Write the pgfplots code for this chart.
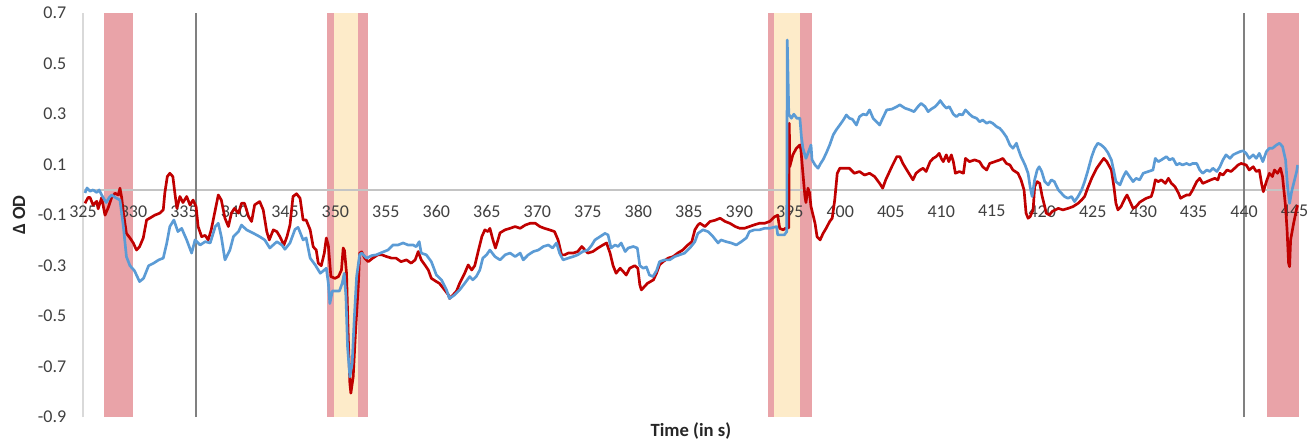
\documentclass[border=0pt]{standalone}
\usepackage{fontspec}
\setmainfont{Carlito}
\usepackage{pgfplots}
\pgfplotsset{compat=1.18}

\definecolor{seriesred}{HTML}{C00000}
\definecolor{seriesblue}{HTML}{5B9BD5}
\definecolor{bandred}{HTML}{E9A3A8}
\definecolor{bandyellow}{HTML}{FDEBC9}
\definecolor{markline}{HTML}{808080}
\definecolor{zeroline}{HTML}{C4C4C4}
\definecolor{ticktext}{HTML}{404040}

\begin{document}
\begin{tikzpicture}
\begin{axis}[
  name=ax,
  set layers,
  scale only axis,
  width=911.8pt, height=303pt,
  xmin=325, xmax=445.4, ymin=-0.9, ymax=0.7,
  axis x line=middle, axis y line=left,
  x axis line style={draw=none},
  y axis line style={-, draw=black!15, line width=0.9pt},
  hide obscured x ticks=false,
  major tick length=0pt,
  xtick={325,330,...,445},
  ytick={-0.9,-0.7,-0.5,-0.3,-0.1,0.1,0.3,0.5,0.7},
  yticklabels={-0.9,-0.7,-0.5,-0.3,-0.1,0.1,0.3,0.5,0.7},
  /pgf/number format/assume math mode=true,
  /pgf/number format/1000 sep={},
  tick label style={font=\fontsize{13.5}{16}\selectfont, text=ticktext},
  xticklabel style={yshift=-8pt},
  yticklabel style={xshift=-9pt},
  clip=true,
]

% stimulus bands, kept behind the tick labels
\begin{pgfonlayer}{axis background}
\addplot[draw=none, fill=bandred] coordinates {(327.1,-0.9) (330.0,-0.9) (330.0,0.7) (327.1,0.7)} -- cycle;
\addplot[draw=none, fill=bandred] coordinates {(349.2,-0.9) (349.9,-0.9) (349.9,0.7) (349.2,0.7)} -- cycle;
\addplot[draw=none, fill=bandyellow] coordinates {(349.9,-0.9) (352.2,-0.9) (352.2,0.7) (349.9,0.7)} -- cycle;
\addplot[draw=none, fill=bandred] coordinates {(352.2,-0.9) (353.25,-0.9) (353.25,0.7) (352.2,0.7)} -- cycle;
\addplot[draw=none, fill=bandred] coordinates {(392.8,-0.9) (393.4,-0.9) (393.4,0.7) (392.8,0.7)} -- cycle;
\addplot[draw=none, fill=bandyellow] coordinates {(393.4,-0.9) (396.05,-0.9) (396.05,0.7) (393.4,0.7)} -- cycle;
\addplot[draw=none, fill=bandred] coordinates {(396.05,-0.9) (397.2,-0.9) (397.2,0.7) (396.05,0.7)} -- cycle;
\addplot[draw=none, fill=bandred] coordinates {(442.25,-0.9) (445.4,-0.9) (445.4,0.7) (442.25,0.7)} -- cycle;

% zero line and event markers
\addplot[zeroline, line width=0.9pt] coordinates {(325,0) (445.4,0)};
\addplot[markline, line width=1.3pt] coordinates {(336.2,-0.9) (336.2,0.7)};
\addplot[markline, line width=1.3pt] coordinates {(440.0,-0.9) (440.0,0.7)};
\end{pgfonlayer}

% red trace
\addplot[seriesred, line width=2pt, line join=round] coordinates {
(325.2,-0.053) (325.5,-0.03) (325.7,-0.03) (326.0,-0.06) (326.36,-0.045) (326.5,-0.075)
(326.85,-0.03) (327.18,-0.10) (327.5,-0.07) (327.84,-0.03) (328.17,-0.013) (328.5,-0.02)
(328.66,0.007) (328.83,-0.03) (329.0,-0.09) (329.3,-0.172) (329.65,-0.19) (329.98,-0.21)
(330.3,-0.238) (330.6,-0.225) (330.97,-0.19) (331.3,-0.119) (331.6,-0.112) (332.1,-0.10)
(332.6,-0.092) (332.95,-0.079) (333.1,-0.013) (333.35,0.053) (333.6,0.066) (333.9,0.053)
(334.1,-0.013) (334.3,-0.073) (334.6,-0.026) (334.9,-0.05) (335.27,-0.026) (335.6,-0.06)
(335.9,-0.04) (336.2,-0.066) (336.4,-0.145) (336.75,-0.185) (337.1,-0.18) (337.4,-0.198)
(337.7,-0.158) (338.1,-0.079) (338.4,-0.02) (338.7,-0.04) (339.06,-0.112) (339.4,-0.145)
(339.7,-0.092) (340.0,-0.073) (340.4,-0.092) (340.7,-0.053) (341.0,-0.053) (341.4,-0.106)
(341.7,-0.125) (342.0,-0.059) (342.5,-0.046) (342.85,-0.079) (343.2,-0.165) (343.45,-0.198)
(343.85,-0.158) (344.2,-0.165) (344.5,-0.185) (344.9,-0.218) (345.2,-0.185) (345.5,-0.139)
(345.8,-0.026) (346.15,-0.015) (346.5,-0.033) (346.8,-0.119) (347.1,-0.119) (347.5,-0.158)
(347.8,-0.225) (348.1,-0.238) (348.3,-0.29) (348.6,-0.30) (348.9,-0.25) (349.1,-0.19)
(349.3,-0.22) (349.55,-0.343) (349.95,-0.35) (350.3,-0.343) (350.6,-0.317) (350.77,-0.23)
(350.9,-0.24) (351.1,-0.33) (351.27,-0.58) (351.43,-0.766) (351.53,-0.805) (351.76,-0.74)
(352.0,-0.555) (352.26,-0.383) (352.4,-0.25) (352.6,-0.245) (352.9,-0.27) (353.25,-0.284)
(353.7,-0.27) (354.2,-0.257) (354.6,-0.257) (355.07,-0.264) (355.56,-0.27) (356.0,-0.27)
(356.5,-0.284) (357.04,-0.277) (357.5,-0.29) (357.9,-0.277) (358.2,-0.244) (358.5,-0.277)
(358.86,-0.297) (359.2,-0.317) (359.5,-0.35) (360.0,-0.363) (360.3,-0.37) (360.7,-0.39)
(361.2,-0.416) (361.3,-0.43) (361.65,-0.416) (362.0,-0.40) (362.3,-0.37) (362.8,-0.33)
(363.15,-0.297) (363.5,-0.317) (363.8,-0.30) (364.1,-0.25) (364.5,-0.185) (364.8,-0.158)
(365.1,-0.165) (365.3,-0.152) (365.6,-0.198) (365.85,-0.23) (366.1,-0.198) (366.3,-0.17)
(366.8,-0.158) (367.3,-0.152) (367.8,-0.145) (368.3,-0.152) (368.8,-0.139) (369.3,-0.132)
(369.8,-0.132) (370.25,-0.145) (370.7,-0.152) (371.2,-0.158) (371.7,-0.165) (372.05,-0.198)
(372.4,-0.257) (372.7,-0.257) (373.05,-0.25) (373.55,-0.25) (374.0,-0.244) (374.4,-0.224)
(374.7,-0.237) (375.0,-0.25) (375.5,-0.244) (376.0,-0.23) (376.5,-0.218) (376.85,-0.21)
(377.2,-0.25) (377.5,-0.30) (377.8,-0.33) (378.2,-0.31) (378.5,-0.323) (378.8,-0.337)
(379.15,-0.31) (379.65,-0.30) (379.95,-0.31) (380.15,-0.376) (380.3,-0.396) (380.6,-0.383)
(380.9,-0.37) (381.5,-0.356) (381.8,-0.33) (382.1,-0.297) (382.45,-0.284) (382.95,-0.27)
(383.45,-0.264) (383.9,-0.25) (384.4,-0.238) (384.9,-0.218) (385.3,-0.205) (385.6,-0.158)
(385.9,-0.139) (386.1,-0.132) (386.6,-0.145) (387.1,-0.125) (387.6,-0.12) (388.1,-0.112)
(388.6,-0.125) (389.06,-0.132) (389.6,-0.145) (390.05,-0.152) (390.5,-0.152) (391.0,-0.145)
(391.5,-0.138) (392.0,-0.132) (392.5,-0.132) (393.0,-0.125) (393.5,-0.106) (393.8,-0.10)
(394.0,-0.152) (394.35,-0.158) (394.56,-0.152) (394.9,-0.15) (394.95,0.264) (395.0,0.092)
(395.3,0.139) (395.65,0.165) (396.0,0.178) (396.1,0.16) (396.3,0.066) (396.5,-0.026)
(396.6,-0.05) (396.8,0.007) (396.95,-0.01) (397.1,-0.066) (397.5,-0.132) (397.7,-0.185)
(398.0,-0.198) (398.3,-0.172) (398.6,-0.152) (398.95,-0.125) (399.2,-0.112) (399.45,-0.04)
(399.7,0.066) (399.95,0.086) (400.4,0.086) (400.9,0.086) (401.4,0.066) (401.9,0.073)
(402.4,0.059) (402.9,0.066) (403.4,0.053) (403.9,0.026) (404.2,0.007) (404.5,0.04)
(405.1,0.092) (405.6,0.132) (405.9,0.132) (406.2,0.105) (406.5,0.085) (406.9,0.059)
(407.2,0.04) (407.5,0.066) (407.9,0.079) (408.2,0.086) (408.5,0.073) (408.9,0.112)
(409.2,0.125) (409.5,0.132) (409.8,0.145) (410.0,0.125) (410.2,0.112) (410.5,0.139)
(410.75,0.112) (411.0,0.139) (411.2,0.112) (411.4,0.066) (411.8,0.073) (412.2,0.066)
(412.4,0.125) (412.8,0.112) (413.3,0.119) (413.8,0.112) (414.1,0.092) (414.5,0.079)
(414.8,0.105) (415.3,0.112) (415.8,0.119) (416.1,0.125) (416.45,0.105) (416.8,0.099)
(417.1,0.079) (417.6,0.066) (417.9,0.04) (418.2,0.0) (418.4,-0.092) (418.6,-0.112)
(418.8,-0.106) (419.1,-0.079) (419.25,0.013) (419.5,0.033) (419.75,0.026) (420.0,-0.026)
(420.25,-0.066) (420.4,-0.092) (420.7,-0.099) (421.0,-0.085) (421.6,-0.073) (422.05,-0.079)
(422.55,-0.073) (423.05,-0.066) (423.55,-0.053) (423.9,-0.04) (424.2,-0.026) (424.5,0.007)
(424.9,0.046) (425.4,0.086) (425.85,0.112) (426.1,0.125) (426.4,0.112) (426.85,0.079)
(427.1,0.013) (427.3,-0.053) (427.5,-0.079) (427.8,-0.066) (428.2,-0.033) (428.4,-0.02)
(428.7,-0.046) (429.0,-0.073) (429.3,-0.066) (429.65,-0.049) (430.0,-0.04) (430.3,-0.033)
(430.8,-0.026) (431.0,0.0) (431.2,0.04) (431.5,0.033) (431.8,0.04) (432.2,0.026)
(432.5,0.046) (432.8,0.026) (433.15,0.013) (433.5,-0.013) (433.7,-0.033) (434.0,-0.026)
(434.3,-0.02) (434.6,-0.02) (434.9,0.0) (435.3,0.033) (435.6,0.046) (435.9,0.026)
(436.3,0.033) (436.7,0.04) (437.1,0.046) (437.4,0.04) (437.6,0.066) (437.9,0.059)
(438.3,0.079) (438.7,0.073) (439.06,0.086) (439.4,0.099) (439.7,0.105) (440.2,0.099)
(440.5,0.079) (440.9,0.092) (441.2,0.073) (441.5,0.079) (441.75,0.02) (441.9,-0.007)
(442.2,0.033) (442.5,0.066) (442.8,0.053) (443.0,0.079) (443.3,0.066) (443.6,0.086)
(443.8,0.053) (444.1,-0.066) (444.25,-0.158) (444.4,-0.29) (444.5,-0.304) (444.6,-0.198)
(444.9,-0.132) (445.2,-0.073) (445.3,-0.06)
};

% blue trace
\addplot[seriesblue, line width=2pt, line join=round] coordinates {
(325.2,-0.012) (325.4,0.008) (325.7,-0.005) (326.0,0.0) (326.36,-0.01) (326.6,0.0)
(326.85,-0.02) (327.3,-0.05) (327.6,-0.03) (327.84,-0.02) (328.2,-0.03) (328.66,-0.04)
(329.0,-0.145) (329.3,-0.264) (329.65,-0.30) (330.1,-0.32) (330.6,-0.363) (331.0,-0.35)
(331.5,-0.30) (332.0,-0.29) (332.5,-0.277) (332.95,-0.27) (333.3,-0.21) (333.6,-0.145)
(334.0,-0.119) (334.4,-0.165) (334.77,-0.152) (335.27,-0.198) (335.76,-0.25) (336.1,-0.198)
(336.6,-0.218) (337.1,-0.205) (337.6,-0.21) (338.1,-0.145) (338.4,-0.132) (338.7,-0.185)
(339.06,-0.277) (339.55,-0.238) (339.9,-0.185) (340.4,-0.165) (340.7,-0.139) (341.2,-0.158)
(341.9,-0.172) (342.5,-0.185) (343.0,-0.198) (343.5,-0.23) (344.2,-0.205) (344.7,-0.218)
(345.0,-0.235) (345.5,-0.21) (346.0,-0.156) (346.3,-0.148) (346.8,-0.198) (347.1,-0.19)
(347.5,-0.27) (348.0,-0.297) (348.5,-0.33) (348.9,-0.317) (349.1,-0.31) (349.3,-0.37)
(349.45,-0.45) (349.7,-0.40) (349.95,-0.40) (350.4,-0.40) (350.67,-0.37) (350.87,-0.33)
(351.04,-0.42) (351.2,-0.62) (351.43,-0.74) (351.66,-0.686) (351.86,-0.515) (352.1,-0.343)
(352.4,-0.257) (352.6,-0.25) (353.1,-0.27) (353.6,-0.26) (354.05,-0.257) (354.57,-0.248)
(355.2,-0.238) (355.7,-0.218) (356.2,-0.218) (356.7,-0.21) (357.2,-0.218) (357.7,-0.218)
(358.0,-0.225) (358.3,-0.205) (358.5,-0.25) (359.0,-0.257) (359.5,-0.284) (360.0,-0.337)
(360.5,-0.356) (361.0,-0.396) (361.3,-0.43) (361.8,-0.416) (362.3,-0.396) (362.8,-0.37)
(363.3,-0.343) (363.6,-0.356) (363.95,-0.343) (364.3,-0.317) (364.6,-0.27) (364.97,-0.257)
(365.3,-0.238) (365.8,-0.264) (366.3,-0.277) (366.8,-0.257) (367.3,-0.25) (367.8,-0.264)
(368.3,-0.25) (368.6,-0.277) (369.1,-0.257) (369.6,-0.244) (370.1,-0.238) (370.6,-0.224)
(371.1,-0.218) (371.5,-0.23) (371.9,-0.21) (372.2,-0.25) (372.55,-0.277) (373.05,-0.27)
(373.55,-0.264) (374.0,-0.257) (374.5,-0.244) (375.0,-0.238) (375.4,-0.218) (375.7,-0.198)
(376.2,-0.185) (376.7,-0.172) (377.0,-0.178) (377.3,-0.23) (377.7,-0.218) (378.0,-0.224)
(378.3,-0.21) (378.7,-0.244) (379.0,-0.23) (379.5,-0.224) (379.9,-0.23) (380.15,-0.30)
(380.5,-0.31) (380.8,-0.305) (381.1,-0.337) (381.45,-0.343) (381.8,-0.32) (382.1,-0.284)
(382.6,-0.277) (383.1,-0.277) (383.6,-0.264) (384.1,-0.257) (384.6,-0.25) (385.1,-0.23)
(385.6,-0.205) (385.9,-0.172) (386.4,-0.158) (386.9,-0.165) (387.4,-0.185) (387.9,-0.21)
(388.2,-0.198) (388.7,-0.205) (389.2,-0.21) (389.7,-0.218) (390.2,-0.205) (390.7,-0.19)
(391.0,-0.165) (391.5,-0.158) (392.0,-0.158) (392.5,-0.152) (393.0,-0.152) (393.7,-0.145)
(393.8,-0.178) (394.1,-0.178) (394.46,-0.178) (394.7,-0.165) (394.75,0.594) (394.9,0.30)
(395.16,0.284) (395.4,0.30) (395.7,0.284) (396.0,0.284) (396.15,0.21) (396.3,0.165)
(396.6,0.125) (396.8,0.145) (397.1,0.178) (397.2,0.12) (397.5,0.099) (397.8,0.086)
(398.07,0.106) (398.3,0.12) (398.6,0.145) (398.95,0.178) (399.3,0.218) (399.6,0.238)
(399.95,0.257) (400.3,0.277) (400.6,0.297) (400.9,0.284) (401.2,0.28) (401.6,0.257)
(401.9,0.29) (402.25,0.30) (402.6,0.297) (402.9,0.317) (403.25,0.284) (403.6,0.27)
(403.9,0.257) (404.2,0.284) (404.6,0.317) (405.1,0.32) (405.6,0.33) (405.9,0.337)
(406.4,0.324) (406.9,0.317) (407.3,0.31) (407.7,0.33) (408.0,0.343) (408.4,0.33)
(408.7,0.31) (409.0,0.32) (409.4,0.33) (409.7,0.343) (409.9,0.354) (410.2,0.337)
(410.5,0.324) (410.8,0.33) (411.2,0.30) (411.5,0.29) (411.8,0.30) (412.1,0.297)
(412.4,0.317) (412.8,0.30) (413.1,0.29) (413.5,0.284) (413.8,0.27) (414.1,0.277)
(414.5,0.264) (414.8,0.27) (415.1,0.264) (415.5,0.25) (415.8,0.244) (416.1,0.23)
(416.45,0.21) (416.8,0.178) (417.1,0.165) (417.45,0.185) (417.6,0.165) (417.9,0.132)
(418.3,0.099) (418.6,0.066) (418.8,0.013) (419.0,-0.026) (419.25,0.04) (419.5,0.079)
(419.7,0.092) (419.95,0.073) (420.25,0.033) (420.6,0.02) (420.9,0.04) (421.2,0.033)
(421.6,0.0) (421.9,-0.013) (422.2,-0.026) (422.55,-0.033) (422.9,-0.026) (423.2,-0.046)
(423.55,-0.026) (423.9,0.0) (424.2,0.033) (424.5,0.073) (424.9,0.132) (425.2,0.165)
(425.5,0.185) (425.85,0.178) (426.2,0.165) (426.5,0.148) (426.85,0.119) (427.1,0.073)
(427.3,0.033) (427.7,0.02) (428.0,0.05) (428.3,0.073) (428.7,0.05) (429.0,0.033)
(429.3,0.046) (429.65,0.04) (430.0,0.066) (430.5,0.073) (430.97,0.079) (431.2,0.125)
(431.5,0.112) (431.8,0.119) (432.3,0.132) (432.6,0.119) (432.95,0.125) (433.3,0.099)
(433.6,0.105) (433.9,0.099) (434.3,0.105) (434.6,0.099) (434.9,0.105) (435.3,0.105)
(435.6,0.079) (435.9,0.066) (436.3,0.079) (436.6,0.073) (436.9,0.086) (437.3,0.073)
(437.6,0.092) (437.9,0.119) (438.2,0.139) (438.6,0.125) (438.9,0.139) (439.2,0.145)
(439.6,0.152) (439.9,0.155) (440.2,0.145) (440.5,0.125) (440.9,0.139) (441.2,0.125)
(441.5,0.145) (441.85,0.112) (442.2,0.152) (442.5,0.165) (442.8,0.165) (443.2,0.178)
(443.5,0.185) (443.8,0.172) (444.1,0.119) (444.3,0.013) (444.5,-0.053) (444.7,-0.007)
(444.95,0.033) (445.2,0.073) (445.3,0.099)
};
\end{axis}

\node[rotate=90, font=\fontsize{14}{16}\selectfont\bfseries, text=black!85]
  at ([xshift=-48pt]ax.west) {Δ OD};
\node[font=\fontsize{14}{16}\selectfont\bfseries, text=black!85]
  at ([yshift=-10.1pt]ax.south) {Time (in s)};

\pgfresetboundingbox
\path[use as bounding box] ([xshift=-62.25pt,yshift=-20.8pt]ax.south west)
  rectangle ([xshift=10pt,yshift=9.9pt]ax.north east);
\end{tikzpicture}
\end{document}
